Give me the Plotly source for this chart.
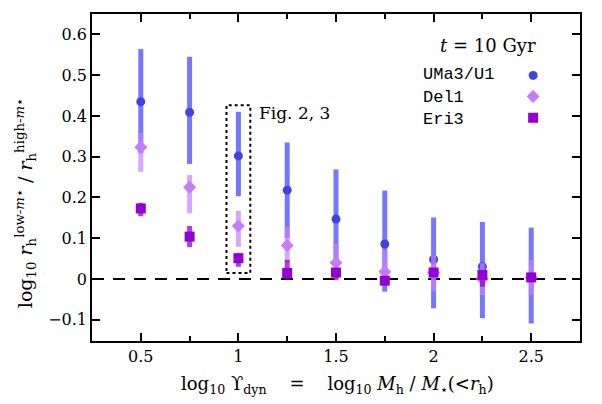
import plotly.graph_objects as go

# ---------------- data ----------------
x_vals = [0.5, 0.75, 1.0, 1.25, 1.5, 1.75, 2.0, 2.25, 2.5]

uma_val = [0.435, 0.409, 0.302, 0.218, 0.147, 0.086, 0.048, 0.030, 0.005]
uma_hi = [0.564, 0.545, 0.410, 0.335, 0.269, 0.217, 0.151, 0.140, 0.126]
uma_lo = [0.309, 0.282, 0.203, 0.100, 0.030, -0.031, -0.072, -0.096, -0.109]

del_val = [0.323, 0.225, 0.130, 0.082, 0.040, 0.018, 0.016, 0.000, 0.004]
del_hi = [0.358, 0.255, 0.167, 0.128, 0.087, 0.071, 0.059, 0.039, 0.047]
del_lo = [0.263, 0.161, 0.079, 0.040, 0.000, -0.010, -0.030, -0.039, -0.039]

eri_val = [0.173, 0.104, 0.051, 0.015, 0.016, -0.004, 0.016, 0.010, 0.004]
eri_hi = [0.187, 0.130, 0.064, 0.047, 0.026, 0.006, 0.026, 0.018, 0.014]
eri_lo = [0.154, 0.078, 0.030, -0.002, -0.002, -0.016, 0.005, -0.019, -0.006]

series_names = ["UMa3/U1", "Del1", "Eri3"]
x_ticks = [0.5, 1.0, 1.5, 2.0, 2.5]
x_tick_text = ["0.5", "1", "1.5", "2", "2.5"]
y_ticks = [-0.1, 0, 0.1, 0.2, 0.3, 0.4, 0.5, 0.6]
y_tick_text = ["\u22120.1", "0", "0.1", "0.2", "0.3", "0.4", "0.5", "0.6"]

# ---------------- style ----------------
SERIF = "DejaVu Serif"
MONO = "Liberation Mono"
NB = "\u00a0"
styles = [
    dict(symbol="circle", mcolor="#4343dc", ecolor="rgba(80,80,255,0.78)", size=9),
    dict(symbol="diamond", mcolor="#c27efa", ecolor="rgba(200,130,250,0.7)", size=10),
    dict(symbol="square", mcolor="#9400d3", ecolor="rgba(148,0,211,0.75)", size=10),
]
series = [(uma_val, uma_hi, uma_lo), (del_val, del_hi, del_lo), (eri_val, eri_hi, eri_lo)]

fig = go.Figure()
for name, (v, hi, lo), st in zip(series_names, series, styles):
    fig.add_trace(go.Scatter(
        x=x_vals, y=v, mode="markers", name=" ",
        marker=dict(symbol=st["symbol"], color=st["mcolor"], size=st["size"], line=dict(width=0)),
        error_y=dict(type="data", symmetric=False,
                     array=[h - c for h, c in zip(hi, v)],
                     arrayminus=[c - l for c, l in zip(v, lo)],
                     color=st["ecolor"], thickness=5, width=0),
        showlegend=True,
    ))

# zero line
fig.add_hline(y=0, line=dict(color="black", width=2, dash="12px,9px"), layer="below")

# dotted box highlighting Fig. 2,3
fig.add_shape(type="rect", x0=0.939, x1=1.061, y0=0.015, y1=0.426,
              line=dict(color="black", width=2, dash="dot"))
fig.add_annotation(x=1.095, y=0.407, xref="x", yref="y", text="Fig." + NB + "2," + NB + "3",
                   showarrow=False, xanchor="left", yanchor="middle",
                   font=dict(family=SERIF, size=17, color="black"))

# legend header and labels
fig.add_annotation(x=0.8115, y=0.905, xref="paper", yref="paper", xanchor="center", yanchor="middle",
                   text="<i>t</i>" + NB + "=" + NB + "10" + NB + "Gyr", showarrow=False,
                   font=dict(family=SERIF, size=18, color="black"))
for i, (name, yy) in enumerate(zip(series_names, [0.8165, 0.7453, 0.6774])):
    fig.add_annotation(x=0.6736, y=yy, xref="paper", yref="paper", text=name,
                       showarrow=False, xanchor="left", yanchor="middle",
                       font=dict(family=MONO, size=17, color="black"))

# axis titles
sp = NB * 4
fig.add_annotation(x=0.504, y=-0.1346, xref="paper", yref="paper", xanchor="center", yanchor="middle",
                   showarrow=False,
                   text="log<sub>10</sub>" + NB + "\u03d2<sub>dyn</sub>" + sp + "=" + sp +
                        "log<sub>10</sub>" + NB + "<i>M</i><sub>h</sub>" + NB + "/" + NB +
                        "<i>M</i><sub>\u22c6</sub>(&lt;<i>r</i><sub>h</sub>)",
                   font=dict(family=SERIF, size=18, color="black"))
fig.add_annotation(x=-0.137, y=0.422, xref="paper", yref="paper", xanchor="center", yanchor="middle",
                   showarrow=False, textangle=-90,
                   text="log<sub>10</sub>" + NB + "<i>r</i><sub>h</sub><sup>low-<i>m</i>\u22c6</sup>" +
                        NB + "/" + NB + "<i>r</i><sub>h</sub><sup>high-<i>m</i>\u22c6</sup>",
                   font=dict(family=SERIF, size=19, color="black"))

axis_common = dict(showline=True, linecolor="black", linewidth=1.6, mirror="ticks",
                   ticks="inside", tickcolor="black", tickwidth=1.6, ticklen=8,
                   showgrid=False, zeroline=False, automargin=False,
                   tickfont=dict(family=SERIF, size=16, color="black"))

fig.update_xaxes(range=[0.25, 2.75], tickvals=x_ticks, ticktext=x_tick_text,
                 minor=dict(tickvals=[0.75, 1.25, 1.75, 2.25], ticklen=5, tickcolor="black",
                            tickwidth=1.6, ticks="inside"),
                 **axis_common)
fig.update_yaxes(range=[-0.152, 0.65], tickvals=y_ticks, ticktext=y_tick_text,
                 **axis_common)

# the page adds an 8 px body margin: the figure is sized so that the plot area
# lands at the same place in the 602x404 window as in the reference
fig.update_layout(
    width=594, height=396,
    margin=dict(l=84, r=22, t=6, b=63),
    paper_bgcolor="white", plot_bgcolor="white",
    legend=dict(x=0.863, y=0.86, xanchor="left", yanchor="top",
                bgcolor="rgba(0,0,0,0)", font=dict(family=MONO, size=14),
                tracegroupgap=0, itemclick=False),
)

fig.write_html("out.html")
